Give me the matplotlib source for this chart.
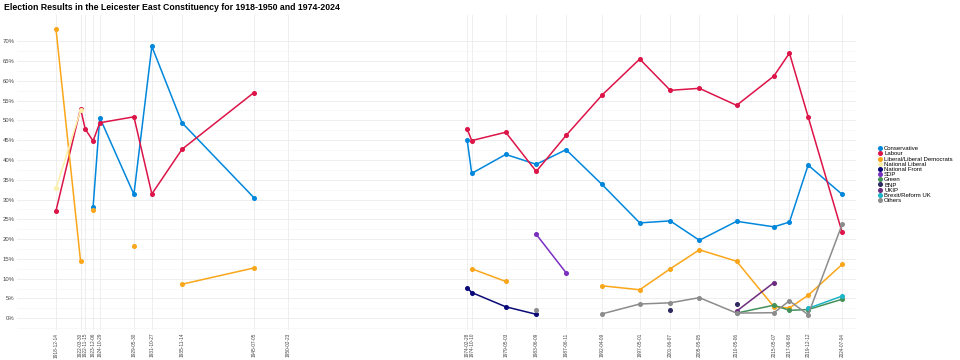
import numpy as np
import pandas as pd
import matplotlib
matplotlib.use("Agg")
import matplotlib.pyplot as plt
from matplotlib.lines import Line2D

plt.rcParams['font.family'] = ['Liberation Sans', 'DejaVu Sans']

# Election dates (tick labels)
dates = ['1918-12-14', '1922-03-30', '1922-11-15', '1923-12-06', '1924-10-29',
         '1929-05-30', '1931-10-27', '1935-11-14', '1945-07-05', '1950-02-23',
         '1974-02-28', '1974-10-10', '1979-05-03', '1983-06-09', '1987-06-11',
         '1992-04-09', '1997-05-01', '2001-06-07', '2005-05-05', '2010-05-06',
         '2015-05-07', '2017-06-08', '2019-12-12', '2024-07-04']

n = None
# Vote share (%) per party, aligned with dates; None = not standing
conservative = [n, n, n, 28.1, 50.7, 31.3, 68.7, 49.4, 30.5, n,
                45.0, 36.6, 41.4, 38.9, 42.6, 33.8, 24.1, 24.6, 19.7, 24.5,
                23.1, 24.3, 38.7, 31.3]
labour = [27.2, 53.0, 47.8, 44.8, 49.4, 50.9, 31.4, 42.7, 57.0, n,
          47.8, 44.9, 47.0, 37.1, 46.2, 56.4, 65.5, 57.6, 58.1, 53.8,
          61.2, 67.0, 50.9, 21.7]
liberal = [73.0, 14.5, n, 27.3, n, 18.2, n, 8.6, 12.7, n,
           n, 12.5, 9.3, n, n, 8.2, 7.2, 12.5, 17.3, 14.4,
           2.9, 2.6, 5.8, 13.6]
national_liberal = [32.8, 52.5, n, n, n, n, n, n, n, n,
                    n, n, n, n, n, n, n, n, n, n, n, n, n, n]
national_front = [n] * 10 + [7.7, 6.5, 2.9, 1.0] + [n] * 10
sdp = [n] * 13 + [21.2, 11.5] + [n] * 9
green = [n] * 19 + [1.3, 3.3, 2.0, 2.2, 4.8]
bnp = [n] * 17 + [2.0, n, 3.6, n, n, n, n]
ukip = [n] * 19 + [1.8, 9.0, n, n, n]
reform = [n] * 22 + [2.5, 5.6]
others = [n] * 13 + [2.2, n, 1.1, 3.6, 3.9, 5.2, 1.3, 1.4, 4.4, 0.9, 23.7]

y_ticks = list(range(0, 75, 5))

parties = ['Conservative', 'Labour', 'Liberal/Liberal Democrats', 'National Liberal',
           'National Front', 'SDP', 'Green', 'BNP', 'UKIP', 'Brexit/Reform UK', 'Others']
series = [conservative, labour, liberal, national_liberal, national_front, sdp,
          green, bnp, ukip, reform, others]
colors = ['#0087DC', '#DC1448', '#FAA61A', '#FBF0A8', '#0A0A78', '#7A2FC0',
          '#45915A', '#2E2A60', '#6D2C7E', '#1CB5C6', '#8C8C8C']

x = pd.to_datetime(dates)

fig = plt.figure(figsize=(9.6, 3.6), dpi=100)
ax = fig.add_axes([0.018, 0.083, 0.874, 0.875])

for vals, c in zip(series, colors):
    y = np.array([np.nan if v is None else v for v in vals], dtype=float)
    ax.plot(x, y, color=c, lw=1.1, marker='o', markersize=2.6, zorder=3)

ax.set_xlim(pd.Timestamp('1913-10-01'), pd.Timestamp('2026-06-01'))
ax.set_ylim(-3.0, 76.6)

ax.set_xticks(x)
ax.set_xticklabels(dates, rotation=90, fontsize=3.4, color='#444444')
ax.set_yticks(y_ticks)
ax.set_yticks([t + 2.5 for t in y_ticks[:-1]] + [-2.5], minor=True)
ax.set_yticklabels([f'{t}%' for t in y_ticks])
ax.tick_params(axis='y', labelsize=4.3, colors='#444444', length=0, pad=2)
ax.tick_params(axis='x', length=0, pad=2)
ax.tick_params(which='minor', length=0)

ax.grid(True, which='major', color='#EBEBEB', lw=0.6)
ax.grid(True, which='minor', axis='y', color='#F4F4F4', lw=0.4)
ax.set_axisbelow(True)
for s in ax.spines.values():
    s.set_visible(False)

fig.text(0.004, 0.978, 'Election Results in the Leicester East Constituency for 1918-1950 and 1974-2024',
         fontsize=6.3, fontweight='bold', ha='left', va='center')

handles = [Line2D([], [], color=c, marker='o', ls='', markersize=2.6) for c in colors]
fig.legend(handles, parties, loc='center left', bbox_to_anchor=(0.911, 0.515),
           frameon=False, fontsize=4.3, handletextpad=0.3, labelspacing=0.0,
           handlelength=0.8, borderpad=0)

fig.savefig('out.png', dpi=100)
